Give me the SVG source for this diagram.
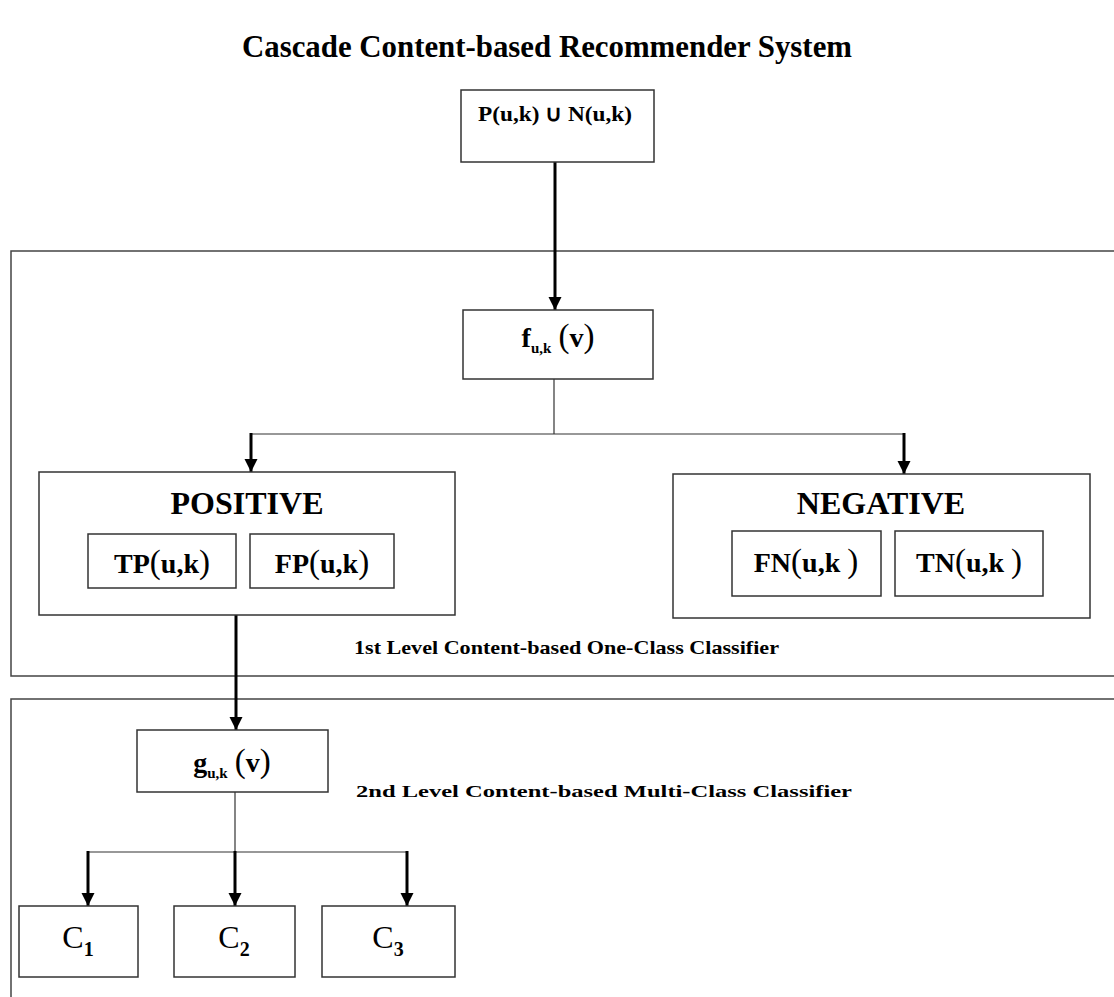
<svg xmlns="http://www.w3.org/2000/svg" width="1114" height="997" viewBox="0 0 1114 997">
<style>
.bg{fill:#fff}
.frame{fill:none;stroke:#444;stroke-width:1.5}
.box{fill:#fff;stroke:#333;stroke-width:1.5}
.t{font-family:"Liberation Serif","Times New Roman",serif;font-weight:bold;fill:#000}
.thin{font-weight:normal}
.par{font-weight:normal;font-size:33px}
.line{fill:none;stroke:#333;stroke-width:1.2}
.arrow{fill:none;stroke:#000;stroke-width:3;marker-end:url(#ah)}
</style>
<defs>
<marker id="ah" markerUnits="userSpaceOnUse" markerWidth="14" markerHeight="14" refX="13" refY="6.5" orient="auto" viewBox="0 0 14 13">
<path d="M0,0 L13,6.5 L0,13 z" fill="#000"/>
</marker>
</defs>
<rect class="bg" x="0" y="0" width="1114" height="997"/>
<text class="t" x="547" y="57" font-size="32" text-anchor="middle" textLength="610" lengthAdjust="spacingAndGlyphs">Cascade Content-based Recommender System</text>

<g id="level1-frame">
<path class="frame" d="M1114,251 H11 V676 H1114"/>
<text class="t" x="354" y="654" font-size="19" textLength="425" lengthAdjust="spacingAndGlyphs">1st Level Content-based One-Class Classifier</text>
</g>
<g id="level2-frame">
<path class="frame" d="M1114,699 H11 V997"/>
<text class="t" x="356" y="797" font-size="17" textLength="496" lengthAdjust="spacingAndGlyphs">2nd Level Content-based Multi-Class Classifier</text>
</g>

<g id="connectors">
<path class="arrow" d="M555,162 V310"/>
<path class="line" d="M554,379 V434"/>
<path class="line" d="M251,434 H904"/>
<path class="arrow" d="M251,433 V472"/>
<path class="arrow" d="M904,433 V474"/>
<path class="arrow" d="M236,615 V730"/>
<path class="line" d="M235,792 V852"/>
<path class="line" d="M88,852 H407"/>
<path class="arrow" d="M88,851 V906"/>
<path class="arrow" d="M235,851 V906"/>
<path class="arrow" d="M407,851 V906"/>
</g>

<g id="node-input">
<rect class="box" x="461" y="90" width="193" height="72"/>
<text class="t" x="555" y="121" font-size="22" text-anchor="middle" textLength="154" lengthAdjust="spacingAndGlyphs">P(u,k) ∪ N(u,k)</text>
</g>

<g id="node-f">
<rect class="box" x="463" y="310" width="190" height="69"/>
<text class="t" x="558" y="347" font-size="28" text-anchor="middle">f<tspan font-size="15" dy="6">u,k</tspan><tspan dy="-6"> </tspan><tspan class="par">(</tspan>v<tspan class="par">)</tspan></text>
</g>

<g id="node-positive">
<rect class="box" x="39" y="472" width="416" height="143"/>
<text class="t" x="247" y="514" font-size="32" text-anchor="middle">POSITIVE</text>
<g id="node-tp">
<rect class="box" x="88" y="534" width="148" height="54"/>
<text class="t" x="162" y="573" font-size="28" text-anchor="middle">TP<tspan class="par">(</tspan>u,k<tspan class="par">)</tspan></text>
</g>
<g id="node-fp">
<rect class="box" x="250" y="534" width="144" height="54"/>
<text class="t" x="322" y="573" font-size="28" text-anchor="middle">FP<tspan class="par">(</tspan>u,k<tspan class="par">)</tspan></text>
</g>
</g>

<g id="node-negative">
<rect class="box" x="673" y="474" width="417" height="144"/>
<text class="t" x="881" y="514" font-size="32" text-anchor="middle">NEGATIVE</text>
<g id="node-fn">
<rect class="box" x="732" y="531" width="149" height="65"/>
<text class="t" x="806" y="572" font-size="28" text-anchor="middle">FN<tspan class="par">(</tspan>u,k <tspan class="par">)</tspan></text>
</g>
<g id="node-tn">
<rect class="box" x="895" y="531" width="148" height="65"/>
<text class="t" x="969" y="572" font-size="28" text-anchor="middle">TN<tspan class="par">(</tspan>u,k <tspan class="par">)</tspan></text>
</g>
</g>

<g id="node-g">
<rect class="box" x="137" y="730" width="191" height="62"/>
<text class="t" x="232" y="772" font-size="28" text-anchor="middle">g<tspan font-size="15" dy="6">u,k</tspan><tspan dy="-6"> </tspan><tspan class="par">(</tspan>v<tspan class="par">)</tspan></text>
</g>

<g id="node-c1">
<rect class="box" x="19" y="906" width="119" height="71"/>
<text class="t" x="78" y="948" font-size="32" text-anchor="middle"><tspan class="thin">C</tspan><tspan font-size="20" dy="8">1</tspan></text>
</g>
<g id="node-c2">
<rect class="box" x="174" y="906" width="121" height="71"/>
<text class="t" x="234" y="948" font-size="32" text-anchor="middle"><tspan class="thin">C</tspan><tspan font-size="20" dy="8">2</tspan></text>
</g>
<g id="node-c3">
<rect class="box" x="322" y="906" width="133" height="71"/>
<text class="t" x="388" y="948" font-size="32" text-anchor="middle"><tspan class="thin">C</tspan><tspan font-size="20" dy="8">3</tspan></text>
</g>
</svg>
